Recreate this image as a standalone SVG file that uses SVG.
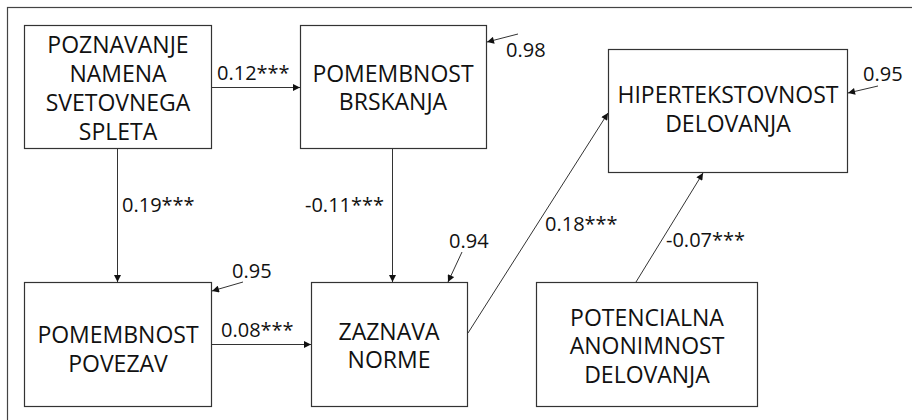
<svg xmlns="http://www.w3.org/2000/svg" width="912" height="420" viewBox="0 0 912 420">
<defs>
<marker id="ah" viewBox="0 0 10 10" refX="10" refY="5" markerWidth="8" markerHeight="7" markerUnits="userSpaceOnUse" orient="auto">
<path d="M0,0 L10,5 L0,10 z" fill="#111"/>
</marker>
</defs>
<style>
.box{fill:#fff;stroke:#333;stroke-width:1.2}
.frame{fill:none;stroke:#444;stroke-width:1.2}
.nt{font-family:"Open Sans","Noto Sans",sans-serif;font-size:23px;fill:#111;text-anchor:middle}
.lb{font-family:"Open Sans","Noto Sans",sans-serif;font-size:20px;fill:#111}
.c{stroke:#333;stroke-width:1;fill:none;marker-end:url(#ah)}
</style>
<rect width="912" height="420" fill="#fff"/>
<rect class="frame" x="7.5" y="7.5" width="1000" height="1000"/>
<g id="n1">
<rect class="box" x="24.5" y="25.5" width="187" height="123"/>
<text class="nt" x="118" y="53">POZNAVANJE</text>
<text class="nt" x="118" y="82">NAMENA</text>
<text class="nt" x="118" y="111">SVETOVNEGA</text>
<text class="nt" x="118" y="140">SPLETA</text>
</g>
<g id="n2">
<rect class="box" x="300.5" y="25.5" width="186" height="123"/>
<text class="nt" x="393" y="82">POMEMBNOST</text>
<text class="nt" x="393" y="110">BRSKANJA</text>
</g>
<g id="n3">
<rect class="box" x="608.5" y="49.5" width="239" height="123"/>
<text class="nt" x="728" y="103">HIPERTEKSTOVNOST</text>
<text class="nt" x="728" y="132">DELOVANJA</text>
</g>
<g id="n4">
<rect class="box" x="24.5" y="282.5" width="187" height="124"/>
<text class="nt" x="118" y="343">POMEMBNOST</text>
<text class="nt" x="118" y="372">POVEZAV</text>
</g>
<g id="n5">
<rect class="box" x="311.5" y="282.5" width="156" height="124"/>
<text class="nt" x="389" y="340">ZAZNAVA</text>
<text class="nt" x="389" y="368">NORME</text>
</g>
<g id="n6">
<rect class="box" x="536.5" y="282.5" width="221" height="124"/>
<text class="nt" x="647" y="326">POTENCIALNA</text>
<text class="nt" x="647" y="354">ANONIMNOST</text>
<text class="nt" x="647" y="383">DELOVANJA</text>
</g>
<g id="connectors">
<line class="c" x1="212" y1="87.5" x2="300" y2="87.5"/>
<line class="c" x1="117.5" y1="149" x2="117.5" y2="282"/>
<line class="c" x1="392.5" y1="149" x2="392.5" y2="282"/>
<line class="c" x1="212" y1="344.5" x2="311" y2="344.5"/>
<line class="c" x1="468" y1="333" x2="608" y2="113"/>
<line class="c" x1="636" y1="282" x2="703" y2="173"/>
<line class="c" x1="518" y1="34" x2="487" y2="42"/>
<line class="c" x1="878" y1="86" x2="848" y2="93"/>
<line class="c" x1="243" y1="282" x2="212" y2="291"/>
<line class="c" x1="462" y1="252" x2="448" y2="282"/>
</g>
<g id="labels">
<text class="lb" x="217" y="80">0.12***</text>
<text class="lb" x="122" y="212">0.19***</text>
<text class="lb" x="305" y="212">-0.11***</text>
<text class="lb" x="221" y="337">0.08***</text>
<text class="lb" x="545" y="231">0.18***</text>
<text class="lb" x="666" y="247">-0.07***</text>
<text class="lb" x="506" y="57">0.98</text>
<text class="lb" x="863" y="81">0.95</text>
<text class="lb" x="232" y="278">0.95</text>
<text class="lb" x="449" y="248">0.94</text>
</g>
</svg>
